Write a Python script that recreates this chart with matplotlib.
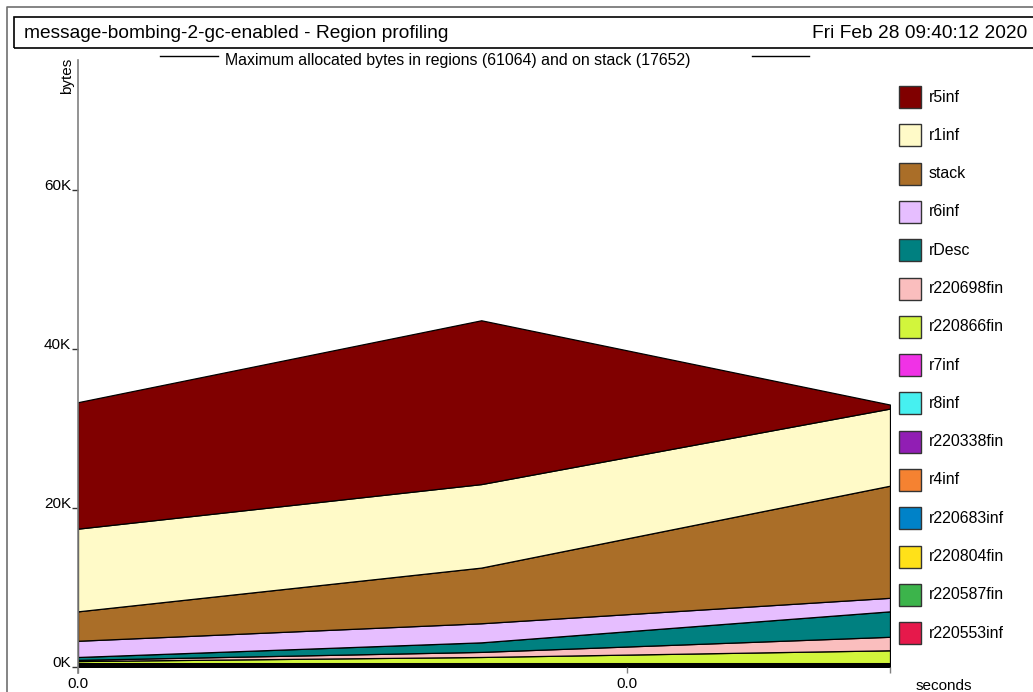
import matplotlib
matplotlib.use("Agg")
import matplotlib.pyplot as plt
from matplotlib.patches import Rectangle
from matplotlib.lines import Line2D
from matplotlib.ticker import FuncFormatter, FixedLocator

plt.rcParams['font.family'] = ['Liberation Sans', 'DejaVu Sans']

# Sample times (seconds)
times = [0.0, 0.0147, 0.0296]

# Region sizes in bytes at each sample, listed bottom-to-top of the stack
series_names = [
    "r220553inf", "r220587fin", "r220804fin", "r220683inf", "r4inf",
    "r220338fin", "r8inf", "r7inf", "r220866fin", "r220698fin",
    "rDesc", "r6inf", "stack", "r1inf", "r5inf",
]
r220553inf = [40, 40, 40]
r220587fin = [40, 40, 40]
r220804fin = [40, 40, 40]
r220683inf = [40, 40, 40]
r4inf = [40, 40, 40]
r220338fin = [150, 150, 150]
r8inf = [40, 40, 40]
r7inf = [100, 100, 100]
r220866fin = [260, 770, 1610]
r220698fin = [150, 640, 1700]
rDesc = [360, 1200, 3200]
r6inf = [2040, 2400, 1700]
stack = [3700, 7000, 14100]
r1inf = [10400, 10500, 9700]
r5inf = [15900, 20600, 500]

series_values = [
    r220553inf, r220587fin, r220804fin, r220683inf, r4inf,
    r220338fin, r8inf, r7inf, r220866fin, r220698fin,
    rDesc, r6inf, stack, r1inf, r5inf,
]
series_colors = [
    "#e6194b", "#3cb44b", "#ffe119", "#0082c8", "#f58231",
    "#911eb4", "#46f0f0", "#f032e6", "#d2f53c", "#fabebe",
    "#008080", "#e6beff", "#aa6e28", "#fffac8", "#800000",
]

max_regions = 61064
max_stack = 17652
y_ticks = [0, 20000, 40000, 60000]
x_ticks = [0.0, 0.02]

title_text = "message-bombing-2-gc-enabled - Region profiling"
date_text = "Fri Feb 28 09:40:12 2020"
subtitle_text = f"Maximum allocated bytes in regions ({max_regions}) and on stack ({max_stack})"

W, H = 1033, 692
fig = plt.figure(figsize=(W / 100, H / 100), dpi=100)


def fx(px):
    return px / W


def fy(py):
    return 1 - py / H


ax = fig.add_axes([fx(78), fy(667), fx(890) - fx(78), fy(60) - fy(667)])
ax.stackplot(times, *series_values, colors=series_colors,
             edgecolor="black", linewidth=0.9)
ax.set_xlim(times[0], times[-1])
ax.set_ylim(0, max_regions * 1.25)

for side in ("top", "right", "bottom"):
    ax.spines[side].set_visible(False)
ax.spines["left"].set_color("#808080")
ax.spines["left"].set_linewidth(1.2)
ax.spines["left"].set_bounds(-800, max_regions * 1.25)

ax.yaxis.set_major_locator(FixedLocator(y_ticks))
ax.yaxis.set_major_formatter(FuncFormatter(lambda v, p: f"{int(v / 1000)}K"))
ax.xaxis.set_major_locator(FixedLocator(x_ticks))
ax.xaxis.set_major_formatter(FuncFormatter(lambda v, p: f"{v:.1f}"))
ax.xaxis.set_minor_locator(FixedLocator([times[-1]]))
ax.tick_params(axis="y", direction="out", length=4, width=1, color="#333333",
               labelsize=11, pad=1)
ax.tick_params(axis="x", which="both", direction="out", length=4.5, width=1,
               color="#808080", labelsize=11, pad=3)
for lbl in ax.get_yticklabels():
    lbl.set_va("baseline")

fig.text(fx(944), fy(686), "seconds", ha="center", va="center", fontsize=11)
fig.text(fx(67), fy(76), "bytes", ha="center", va="center", rotation=90,
         fontsize=11)

# Outer frame and title box
fig.add_artist(Line2D([fx(7), fx(7), fx(1040)], [fy(700), fy(7), fy(7)],
                      transform=fig.transFigure, color="#707070", lw=1.2))
fig.add_artist(Rectangle((fx(14), fy(48)), fx(1040) - fx(14), fy(17) - fy(48),
                         transform=fig.transFigure, fill=False,
                         edgecolor="black", lw=1.2))
fig.text(fx(24), fy(33), title_text, ha="left", va="center", fontsize=13.8)
fig.text(fx(1027), fy(33), date_text, ha="right", va="center", fontsize=13.8)

# Subtitle with rules on both sides
fig.text(fx(458), fy(60), subtitle_text, ha="center", va="center", fontsize=11.4)
for x0, x1 in ((160, 218), (752, 809)):
    fig.add_artist(Line2D([fx(x0), fx(x1)], [fy(56), fy(56)],
                          transform=fig.transFigure, color="black", lw=1))

# Legend, top entry is the top of the stack
legend_top = 97
legend_step = 38.3
for i, (name, color) in enumerate(zip(series_names[::-1], series_colors[::-1])):
    cy = legend_top + i * legend_step
    fig.add_artist(Rectangle((fx(899), fy(cy + 11)), fx(921) - fx(899),
                             fy(cy - 11) - fy(cy + 11),
                             transform=fig.transFigure, facecolor=color,
                             edgecolor="#333333", lw=1))
    fig.text(fx(929), fy(cy), name, ha="left", va="center", fontsize=11.4)

fig.savefig("out.png", dpi=100)
